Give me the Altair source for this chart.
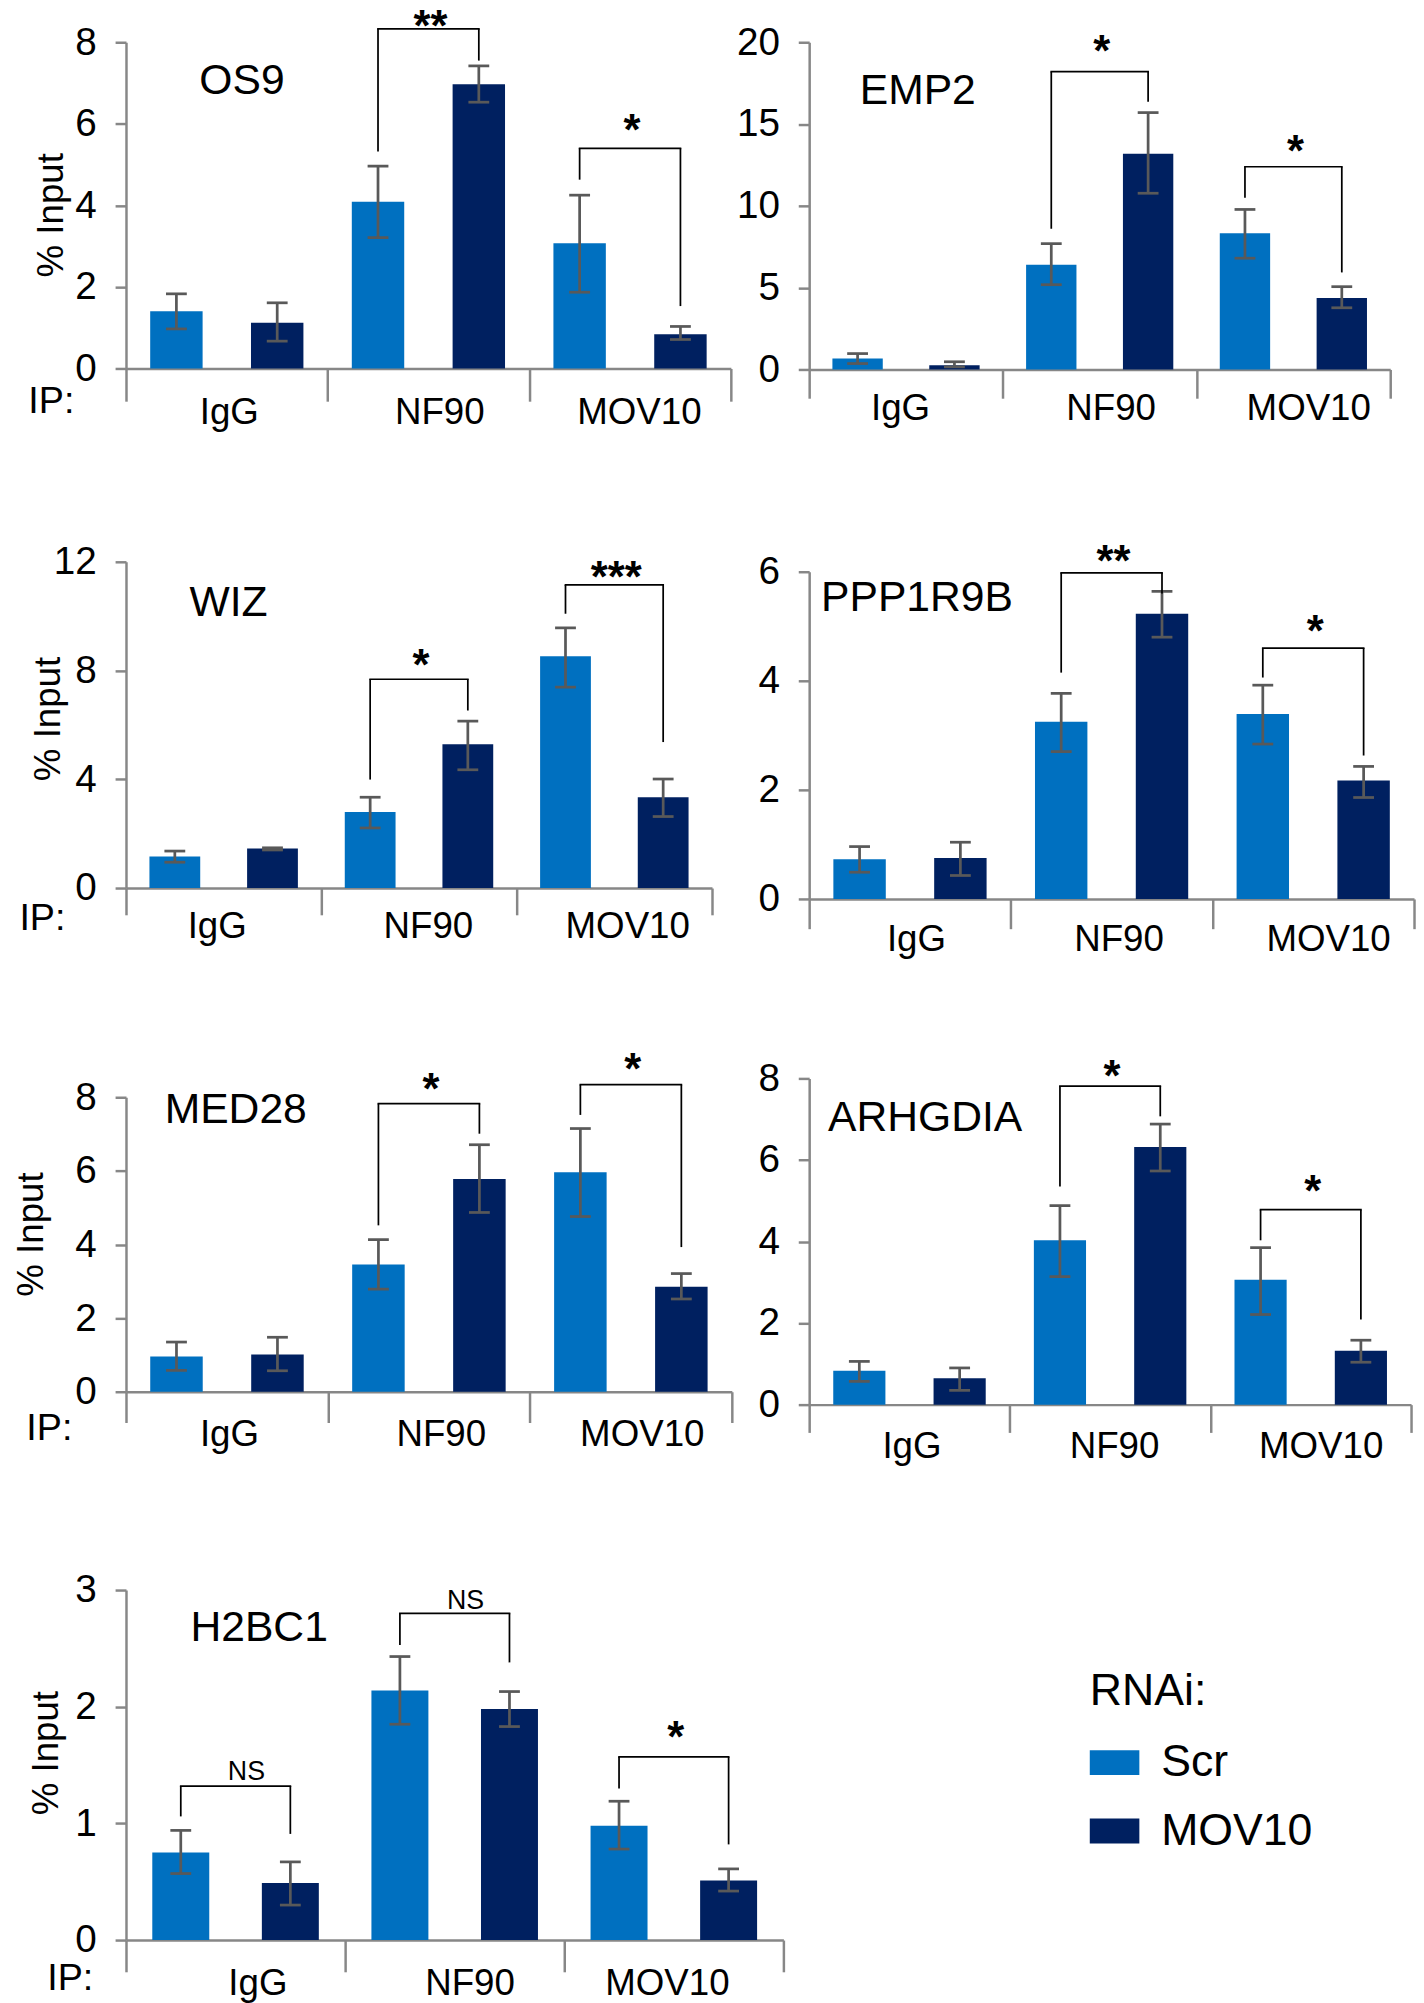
import altair as alt
import pandas as pd

# ---------------- data ----------------
IP_GROUPS = ["IgG", "NF90", "MOV10"]
RNAI = ["Scr", "MOV10"]
RNAI_COLORS = ["#0070C0", "#002060"]

GENES = ["OS9", "EMP2", "WIZ", "PPP1R9B", "MED28", "ARHGDIA", "H2BC1"]
Y_MAX = [8, 20, 12, 6, 8, 8, 3]
Y_TICKS = [
    [0, 2, 4, 6, 8],
    [0, 5, 10, 15, 20],
    [0, 4, 8, 12],
    [0, 2, 4, 6],
    [0, 2, 4, 6, 8],
    [0, 2, 4, 6, 8],
    [0, 1, 2, 3],
]

# Scr RNAi: mean and error-bar ends for IgG, NF90, MOV10 IPs
SCR_MEAN = [
    [1.40, 4.09, 3.07],
    [0.67, 6.40, 8.32],
    [1.16, 2.80, 8.53],
    [0.73, 3.25, 3.39],
    [0.96, 3.46, 5.96],
    [0.83, 4.03, 3.06],
    [0.75, 2.14, 0.98],
]
SCR_LOW = [
    [0.97, 3.21, 1.87],
    [0.36, 5.18, 6.80],
    [0.95, 2.21, 7.39],
    [0.49, 2.70, 2.84],
    [0.58, 2.79, 4.76],
    [0.57, 3.14, 2.21],
    [0.57, 1.85, 0.78],
]
SCR_HIGH = [
    [1.83, 4.96, 4.25],
    [0.97, 7.69, 9.78],
    [1.36, 3.34, 9.57],
    [0.96, 3.77, 3.92],
    [1.35, 4.13, 7.15],
    [1.06, 4.88, 3.85],
    [0.94, 2.43, 1.19],
]
# MOV10 RNAi
MOV_MEAN = [
    [1.12, 6.97, 0.84],
    [0.26, 13.18, 4.37],
    [1.45, 5.29, 3.34],
    [0.75, 5.23, 2.17],
    [1.01, 5.78, 2.85],
    [0.65, 6.32, 1.32],
    [0.49, 1.98, 0.51],
]
MOV_LOW = [
    [0.67, 6.53, 0.71],
    [0.16, 10.77, 3.77],
    [1.40, 4.35, 2.63],
    [0.43, 4.80, 1.86],
    [0.57, 4.87, 2.52],
    [0.35, 5.73, 1.04],
    [0.30, 1.83, 0.42],
]
MOV_HIGH = [
    [1.61, 7.42, 1.03],
    [0.47, 15.70, 5.06],
    [1.48, 6.14, 4.01],
    [1.04, 5.64, 2.43],
    [1.48, 6.71, 3.21],
    [0.90, 6.88, 1.58],
    [0.67, 2.13, 0.61],
]

# significance brackets
SIG_GENE = ["OS9", "OS9", "EMP2", "EMP2", "WIZ", "WIZ", "PPP1R9B", "PPP1R9B",
            "MED28", "MED28", "ARHGDIA", "ARHGDIA", "H2BC1", "H2BC1", "H2BC1"]
SIG_IP = ["NF90", "MOV10", "NF90", "MOV10", "NF90", "MOV10", "NF90", "MOV10",
          "NF90", "MOV10", "NF90", "MOV10", "IgG", "NF90", "MOV10"]
SIG_LABEL = ["**", "*", "*", "*", "*", "***", "**", "*", "*", "*", "*", "*", "NS", "NS", "*"]
SIG_TOP = [8.33, 5.40, 18.2, 12.39, 7.68, 11.15, 5.98, 4.60, 7.83, 8.34, 7.81, 4.78, 1.32, 2.80, 1.57]
SIG_END_SCR = [5.32, 4.63, 8.6, 10.49, 3.99, 10.09, 4.15, 4.06, 4.52, 7.52, 5.35, 4.03, 1.06, 2.53, 1.30]
SIG_END_MOV = [7.55, 1.53, 16.36, 5.93, 6.53, 5.37, 5.6, 2.63, 7.01, 3.93, 7.07, 2.09, 0.91, 2.38, 0.82]
SIG_TEXT_Y = [8.50, 5.93, 19.7, 13.58, 8.36, 11.57, 6.27, 4.99, 8.33, 8.87, 8.16, 5.33, 1.43, 2.90, 1.77]

# ---------------- layout / style ----------------
FONT = "Liberation Sans"
GRAY = "#878787"
ERR = "#595959"

# plot rectangles in page pixels (x0, y0, x1, y1)
RECT = {
    "OS9": (125, 38, 735, 367),
    "EMP2": (807, 38, 1393, 368),
    "WIZ": (127, 558, 718, 887),
    "PPP1R9B": (802, 568, 1412, 898),
    "MED28": (121, 1094, 732, 1391),
    "ARHGDIA": (807, 1075, 1414, 1404),
    "H2BC1": (121, 1587, 784, 1940),
}
ROWS = [["OS9", "EMP2"], ["WIZ", "PPP1R9B"], ["MED28", "ARHGDIA"], ["H2BC1"]]
COL_X = [124, 805]
ROW_GAP = 177
ROW_GAP_FIX = 4
COL_GAP_FIX = 8

NAME_POS = {  # page x of text start, page y of baseline
    "OS9": (198, 90), "EMP2": (856, 100), "WIZ": (188, 613), "PPP1R9B": (817, 608),
    "MED28": (163, 1120), "ARHGDIA": (824, 1128), "H2BC1": (189, 1638),
}
YTITLE_POS = {  # page x of baseline, page y of centre
    "OS9": (60, 212), "WIZ": (57, 716), "MED28": (40, 1232), "H2BC1": (55, 1751),
}
IP_POS = {  # page x of start, page y of baseline
    "OS9": (25, 411), "WIZ": (16, 929), "MED28": (23, 1439), "H2BC1": (44, 1990),
}
LABEL_OFF = {"OS9": 56, "EMP2": 50, "WIZ": 50, "PPP1R9B": 52, "MED28": 54, "ARHGDIA": 53, "H2BC1": 55}
TICK_LEN = {"OS9": 33, "EMP2": 29, "WIZ": 27, "PPP1R9B": 30, "MED28": 31, "ARHGDIA": 28, "H2BC1": 32}
# horizontal nudges of the IgG / NF90 / MOV10 labels from their group centres
LABEL_SHIFT = {
    "OS9": (2, 11, 9), "EMP2": (-6, 11, 15), "WIZ": (-7, 9, 13), "PPP1R9B": (6, 7, 15),
    "MED28": (2, 12, 11), "ARHGDIA": (2, 4, 10), "H2BC1": (22, 15, -7),
}
LEGEND_PAGE = (1096, 1679)

# row tops / heights
row_top, row_bottom = [], []
for r, row in enumerate(ROWS):
    bottom = max(RECT[g][3] for g in row)
    top = min(RECT[g][1] for g in row) if r == 0 else row_bottom[-1] + ROW_GAP
    row_top.append(top)
    row_bottom.append(bottom)
left_max_w = max(RECT[row[0]][2] - RECT[row[0]][0] for row in ROWS)
COL_GAP = COL_X[1] - COL_X[0] - left_max_w

color_scale = alt.Scale(domain=RNAI, range=RNAI_COLORS)
legend = alt.Legend(
    title="RNAi:", orient="none",
    legendX=LEGEND_PAGE[0] - COL_X[0], legendY=LEGEND_PAGE[1] - row_top[0],
    direction="vertical", padding=0,
    titleFontSize=45, titleFontWeight="normal", titleColor="black", titleFont=FONT,
    titlePadding=24,
    labelFontSize=45, labelColor="black", labelFont=FONT, labelOffset=22,
    symbolType="M-1,-0.5H1V0.5H-1Z", symbolSize=2500, symbolStrokeWidth=0,
    symbolOpacity=1, rowPadding=21,
)


def build_panel(i, r, c):
    gene = GENES[i]
    x0, y0, x1, y1 = RECT[gene]
    T = row_top[r]
    B = row_bottom[r]
    H = B - T
    W = x1 - x0
    cx = COL_X[c]

    rows = []
    for k, ip in enumerate(IP_GROUPS):
        rows.append(dict(ip=ip, rnai="Scr", mean=SCR_MEAN[i][k], lo=SCR_LOW[i][k], hi=SCR_HIGH[i][k]))
        rows.append(dict(ip=ip, rnai="MOV10", mean=MOV_MEAN[i][k], lo=MOV_LOW[i][k], hi=MOV_HIGH[i][k]))
    bars_df = pd.DataFrame(rows)

    sig_rows, leg_rows = [], []
    for j, g in enumerate(SIG_GENE):
        if g != gene:
            continue
        sig_rows.append(dict(ip=SIG_IP[j], label=SIG_LABEL[j], top=SIG_TOP[j], ty=SIG_TEXT_Y[j]))
        leg_rows.append(dict(ip=SIG_IP[j], rnai="Scr", end=SIG_END_SCR[j], top=SIG_TOP[j]))
        leg_rows.append(dict(ip=SIG_IP[j], rnai="MOV10", end=SIG_END_MOV[j], top=SIG_TOP[j]))
    sig_df = pd.DataFrame(sig_rows)
    leg_df = pd.DataFrame(leg_rows)

    x_scale = alt.Scale(domain=IP_GROUPS, paddingInner=0, paddingOuter=0)
    xo_scale = alt.Scale(domain=RNAI, paddingInner=0, paddingOuter=0)
    y_scale = alt.Scale(domain=[0, Y_MAX[i]], range=[y1 - T, y0 - T], nice=False, zero=True)

    s_igg, s_nf, s_mov = LABEL_SHIFT[gene]
    label_offset = {
        "condition": [
            {"test": "datum.value == 'IgG'", "value": s_igg},
            {"test": "datum.value == 'NF90'", "value": s_nf},
        ],
        "value": s_mov,
    }

    xaxis_kw = dict(
        labelAngle=0, labelFontSize=37, labelColor="black", labelFont=FONT,
        labelBaseline="alphabetic", labelPadding=LABEL_OFF[gene] - TICK_LEN[gene],
        labelOffset=label_offset,
        tickBand="extent", tickSize=TICK_LEN[gene], tickColor=GRAY, tickWidth=2.5,
        domainColor=GRAY, domainWidth=2.5, offset=y1 - B, grid=False,
    )
    if gene in IP_POS:
        px, py = IP_POS[gene]
        xaxis_kw.update(title="IP:", titleX=px - cx, titleY=py - y1, titleAlign="left",
                        titleBaseline="alphabetic", titleAngle=0, titleFontSize=38,
                        titleFontWeight="normal", titleColor="black", titleFont=FONT)
    else:
        xaxis_kw.update(title="")
    x_axis = alt.Axis(**xaxis_kw)

    yaxis_kw = dict(
        values=Y_TICKS[i], grid=False, labelFontSize=39, labelColor="black", labelFont=FONT,
        labelPadding=19, labelFlush=False, tickSize=11, tickColor=GRAY, tickWidth=2.5,
        domainColor=GRAY, domainWidth=2.5,
    )
    if gene in YTITLE_POS:
        tx, ty = YTITLE_POS[gene]
        yaxis_kw.update(title="% Input", titleX=tx - cx, titleY=ty - T, titleAngle=270,
                        titleAlign="center", titleBaseline="alphabetic", titleFontSize=37,
                        titleFontWeight="normal", titleColor="black", titleFont=FONT)
    else:
        yaxis_kw.update(title="")
    y_axis = alt.Axis(**yaxis_kw)

    bw = 0.26 * W / 3

    def X():
        return alt.X("ip:N", scale=x_scale, axis=x_axis)

    def XO():
        return alt.XOffset("rnai:N", scale=xo_scale)

    def Y(field):
        return alt.Y(field, scale=y_scale, axis=y_axis)

    bars = alt.Chart(bars_df).mark_bar(width=bw).encode(
        x=X(), xOffset=XO(), y=Y("mean:Q"),
        color=alt.Color("rnai:N", scale=color_scale, legend=legend),
    )
    err = alt.Chart(bars_df).mark_rule(color=ERR, strokeWidth=2.75).encode(
        x=X(), xOffset=XO(), y=Y("lo:Q"), y2="hi:Q",
    )
    cap_lo = alt.Chart(bars_df).mark_tick(orient="horizontal", size=21, thickness=2.75, color=ERR, opacity=1).encode(
        x=X(), xOffset=XO(), y=Y("lo:Q"),
    )
    cap_hi = alt.Chart(bars_df).mark_tick(orient="horizontal", size=21, thickness=2.75, color=ERR, opacity=1).encode(
        x=X(), xOffset=XO(), y=Y("hi:Q"),
    )
    legs = alt.Chart(leg_df).mark_rule(color="black", strokeWidth=1.75).encode(
        x=X(), xOffset=XO(), y=Y("end:Q"), y2="top:Q",
    )
    hbar = alt.Chart(sig_df).mark_tick(orient="horizontal", size=W / 6 + 1.75, thickness=1.75,
                                       color="black", opacity=1).encode(
        x=X(), y=Y("top:Q"),
    )
    stars = alt.Chart(sig_df).transform_filter(alt.datum.label != "NS").mark_text(
        fontSize=44, fontWeight="bold", baseline="alphabetic", dy=19, dx=2, font=FONT, color="black"
    ).encode(x=X(), y=Y("ty:Q"), text="label:N")
    ns = alt.Chart(sig_df).transform_filter(alt.datum.label == "NS").mark_text(
        fontSize=27, baseline="alphabetic", dy=7, dx=11, font=FONT, color="black"
    ).encode(x=X(), y=Y("ty:Q"), text="label:N")

    nx, ny = NAME_POS[gene]
    name = alt.Chart(alt.Data(values=[{"name": gene}])).mark_text(
        align="left", baseline="alphabetic", fontSize=43, font=FONT, color="black"
    ).encode(x=alt.value(nx - cx), y=alt.value(ny - T), text="name:N")

    return alt.layer(bars, err, cap_lo, cap_hi, legs, hbar, stars, ns, name).properties(width=W, height=H)


panels = []
for r, row in enumerate(ROWS):
    for c, gene in enumerate(row):
        panels.append(build_panel(GENES.index(gene), r, c))

chart = alt.concat(*panels, columns=2).properties(
    align={"row": "each", "column": "each"},
    bounds="flush",
    spacing={"row": ROW_GAP + ROW_GAP_FIX, "column": COL_GAP + COL_GAP_FIX},
    padding={"left": 4, "top": -12, "right": 0, "bottom": 0},
).resolve_scale(xOffset="independent").configure(font=FONT).configure_view(stroke="transparent")

chart.save("out.html", embed_options={"renderer": "svg", "actions": False})
